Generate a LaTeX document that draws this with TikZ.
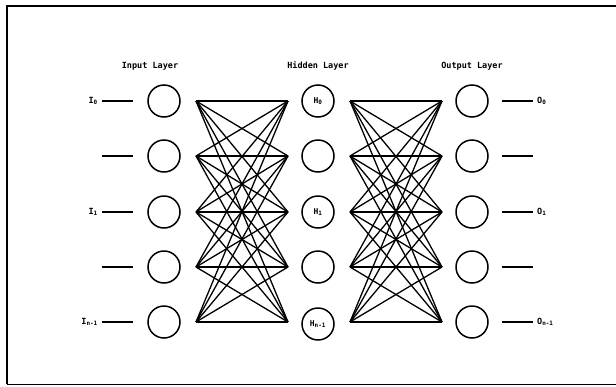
\documentclass[tikz,border=0pt]{standalone}
\usepackage{fontspec}
\setmonofont{DejaVu Sans Mono}
\begin{document}
\begin{tikzpicture}[x=1pt,y=-1pt,
  neuron/.style={circle,draw,line width=1.5pt,minimum size=32pt,inner sep=0pt,font=\ttfamily\bfseries\fontsize{8}{8}\selectfont},
  lbl/.style={font=\ttfamily\bfseries\fontsize{8.5}{8.5}\selectfont,inner sep=0pt},
  ttl/.style={font=\ttfamily\bfseries\fontsize{8.5}{8.5}\selectfont,inner sep=0pt},
  wire/.style={line width=1.3pt},
  frame/.style={line width=2.2pt}]
\useasboundingbox (0,0) rectangle (616,386);
% frame
\coordinate (fa) at (7,384);
\coordinate (fb) at (7,6);
\coordinate (fc) at (616,6);
\coordinate (fd) at (616,384);
\draw[frame] (fa) -- (fb) -- (fc);
\draw[line width=0.6pt] (fa) -- (fd);
% titles
\node[ttl] (tin) at (150,66) {Input Layer};
\node[ttl] (thid) at (318,66) {Hidden Layer};
\node[ttl] (tout) at (472,66) {Output Layer};
% rows
\foreach \i/\y in {0/101,1/156,2/212,3/267,4/322}{
  \node[neuron] (in\i) at (164,\y) {};
  \node[neuron] (out\i) at (472,\y) {};
  \coordinate (a\i) at (196,\y);
  \coordinate (b\i) at (288,\y);
  \coordinate (c\i) at (350,\y);
  \coordinate (d\i) at (442,\y);
  \coordinate (il\i) at (102,\y);
  \coordinate (ir\i) at (133,\y);
  \coordinate (ol\i) at (502,\y);
  \coordinate (or\i) at (533,\y);
  \draw[wire] (il\i) -- (ir\i);
  \draw[wire] (ol\i) -- (or\i);
}
\node[neuron] (h0) at (318,101) {H\textsubscript{0}};
\node[neuron] (h1) at (318,156) {};
\node[neuron] (h2) at (318,212) {H\textsubscript{1}};
\node[neuron] (h3) at (318,267) {};
\node[neuron] (h4) at (318,324) {H\textsubscript{n-1}};
\foreach \i in {0,...,4}{
  \foreach \j in {0,...,4}{
    \draw[wire] (a\i) -- (b\j);
    \draw[wire] (c\i) -- (d\j);
  }
}
% labels
\node[lbl,anchor=east] (li0) at (98,101) {I\textsubscript{0}};
\node[lbl,anchor=east] (li1) at (98,212) {I\textsubscript{1}};
\node[lbl,anchor=east] (li2) at (98,322) {I\textsubscript{n-1}};
\node[lbl,anchor=west] (lo0) at (537,101) {O\textsubscript{0}};
\node[lbl,anchor=west] (lo1) at (537,212) {O\textsubscript{1}};
\node[lbl,anchor=west] (lo2) at (537,322) {O\textsubscript{n-1}};
\end{tikzpicture}
\end{document}
